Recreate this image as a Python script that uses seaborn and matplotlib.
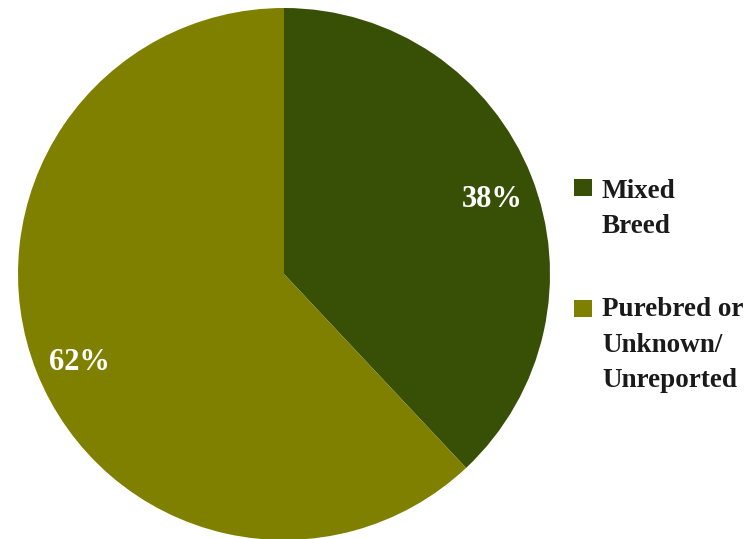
import matplotlib
matplotlib.use("Agg")
import matplotlib.pyplot as plt
import matplotlib.transforms as mtransforms
from matplotlib.patches import Rectangle
import seaborn as sns

categories = ["Mixed\nBreed", "Purebred or\nUnknown/\nUnreported"]
shares = [38, 62]
colors = ["#375005", "#808000"]

sns.set_theme(style="white")
plt.rcParams["font.family"] = ["Liberation Serif", "DejaVu Serif"]

fig = plt.figure(figsize=(7.54, 5.39), dpi=100)
W, H = 754, 539
cx, cy, r = 284, 274, 266
ax = fig.add_axes([(cx - r) / W, (H - cy - r) / H, 2 * r / W, 2 * r / H])
ax.set_aspect("equal")
ax.axis("off")

wedges, texts, autotexts = ax.pie(
    shares,
    colors=colors,
    startangle=90,
    counterclock=False,
    radius=1,
    autopct=lambda p: f"{p:.0f}%",
    pctdistance=0.835,
    textprops=dict(color="white", fontsize=22, fontweight="bold"),
    wedgeprops=dict(linewidth=0),
    frame=False,
)
ax.set_xlim(-1, 1)
ax.set_ylim(-1, 1)

# nudge percentage labels slightly downward so the glyphs sit centred
for t in autotexts:
    t.set_transform(mtransforms.offset_copy(ax.transData, fig=fig, x=1.5, y=-5, units="points"))

# legend: square swatch aligned with the first line of each label
# (swatch top, last-line baseline) in pixels from the top edge
legend_rows = [(179, 233), (300, 387)]
for wedge, label, (top, base) in zip(wedges, categories, legend_rows):
    fig.add_artist(Rectangle((574 / W, 1 - (top + 17) / H), 17.5 / W, 17 / H,
                             transform=fig.transFigure, facecolor=wedge.get_facecolor(),
                             edgecolor="none"))
    fig.text(602 / W, 1 - base / H, label, ha="left", va="baseline",
             fontsize=19.5, fontweight="bold", color="#1a1a1a", linespacing=1.55)

fig.savefig("out.png", dpi=100)
